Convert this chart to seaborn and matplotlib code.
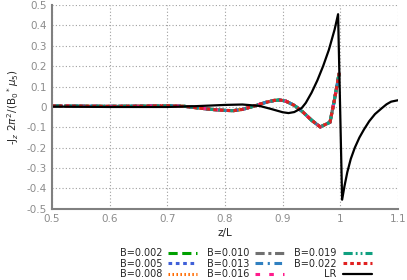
import matplotlib
matplotlib.use("Agg")
import matplotlib.pyplot as plt
import seaborn as sns
import pandas as pd

# B runs (all eight curves sit on top of each other)
z_b = [0.5, 0.55, 0.6, 0.65, 0.7, 0.73, 0.75, 0.78, 0.8, 0.815, 0.83, 0.85, 0.87, 0.885,
       0.895, 0.905, 0.92, 0.935, 0.95, 0.965, 0.982, 0.99, 0.998]
j_b = [0.005, 0.004, 0.003, 0.004, 0.006, 0.003, -0.004, -0.013, -0.017, -0.018, -0.012, 0.004,
       0.022, 0.032, 0.034, 0.029, 0.008, -0.025, -0.065, -0.098, -0.075, 0.04, 0.167]
b_labels = ["B=0.002", "B=0.005", "B=0.008", "B=0.010", "B=0.013", "B=0.016", "B=0.019", "B=0.022"]

# linear response
z_lr = [0.5, 0.6, 0.7, 0.75, 0.8, 0.83, 0.86, 0.88, 0.9, 0.91, 0.92, 0.933, 0.94, 0.95, 0.96,
        0.97, 0.98, 0.99, 0.996, 1.003, 1.007, 1.012, 1.018, 1.025, 1.033, 1.041, 1.05, 1.06,
        1.071, 1.08, 1.088, 1.1]
j_lr = [0.002, 0.0, 0.0, 0.004, 0.01, 0.012, 0.005, -0.01, -0.026, -0.03, -0.025, -0.005, 0.02,
        0.07, 0.13, 0.2, 0.28, 0.38, 0.455, -0.455, -0.39, -0.32, -0.255, -0.2, -0.15, -0.11,
        -0.07, -0.035, -0.008, 0.013, 0.026, 0.033]

styles = [
    ("#00a000", (0, (3, 1.5))),
    ("#4060d8", (0, (1.2, 1.2))),
    ("#ff6a00", (0, (0.5, 0.8))),
    ("#707070", (0, (3, 1.2, 1, 1.2))),
    ("#3080c0", (0, (2.5, 1.5, 0.7, 1.5))),
    ("#ff1c8c", (0, (1.5, 3))),
    ("#10a080", (0, (3, 1, 0.6, 1, 0.6, 1))),
    ("#e02020", (0, (1.2, 1))),
]

sns.set_style("white")
plt.rcParams["font.family"] = ["DejaVu Sans"]

fig = plt.figure(figsize=(4.07, 2.80), dpi=100)
ax = fig.add_axes([0.128, 0.254, 0.850, 0.728])

df_b = pd.DataFrame({"z": z_b, "j": j_b})
for lab, (col, ls) in zip(b_labels, styles):
    sns.lineplot(data=df_b, x="z", y="j", ax=ax, color=col, linestyle=ls, linewidth=2.2,
                 label=lab, sort=False)

df_lr = pd.DataFrame({"z": z_lr, "j": j_lr})
sns.lineplot(data=df_lr, x="z", y="j", ax=ax, color="black", linewidth=1.6, label="LR", sort=False)

ax.set_xlim(0.5, 1.1)
ax.set_ylim(-0.5, 0.5)
ax.set_xticks([0.5, 0.6, 0.7, 0.8, 0.9, 1.0, 1.1])
ax.set_xticklabels(["0.5", "0.6", "0.7", "0.8", "0.9", "1", "1.1"])
ax.set_yticks([-0.5, -0.4, -0.3, -0.2, -0.1, 0, 0.1, 0.2, 0.3, 0.4, 0.5])
ax.set_yticklabels(["-0.5", "-0.4", "-0.3", "-0.2", "-0.1", "0", "0.1", "0.2", "0.3", "0.4", "0.5"])
ax.grid(True, color="#a0a0a0", linestyle=(0, (1, 2)), linewidth=0.8)
for s in ["top", "right"]:
    ax.spines[s].set_visible(False)
for s in ["left", "bottom"]:
    ax.spines[s].set_color("#808080")
    ax.spines[s].set_linewidth(1.5)
ax.tick_params(axis="both", colors="#808080", labelsize=7.5, direction="in", length=3, width=0.8)
ax.tick_params(axis="both", labelcolor="#8c8c8c")
ax.set_xlabel("z/L", fontsize=7.5, labelpad=3)
ax.set_ylabel(r"-J$_z$ 2$\pi^2$/(B$_0$$^*$$\mu_5$)", fontsize=7.5, labelpad=4)

handles, labels = ax.get_legend_handles_labels()
leg = ax.legend(handles, labels, ncol=3, loc="upper center", bbox_to_anchor=(0.56, -0.17),
                frameon=False, fontsize=7, markerfirst=False, handlelength=3.0,
                labelspacing=0.05, columnspacing=1.0, handletextpad=0.6, borderpad=0)

fig.savefig("out.png", dpi=100)
